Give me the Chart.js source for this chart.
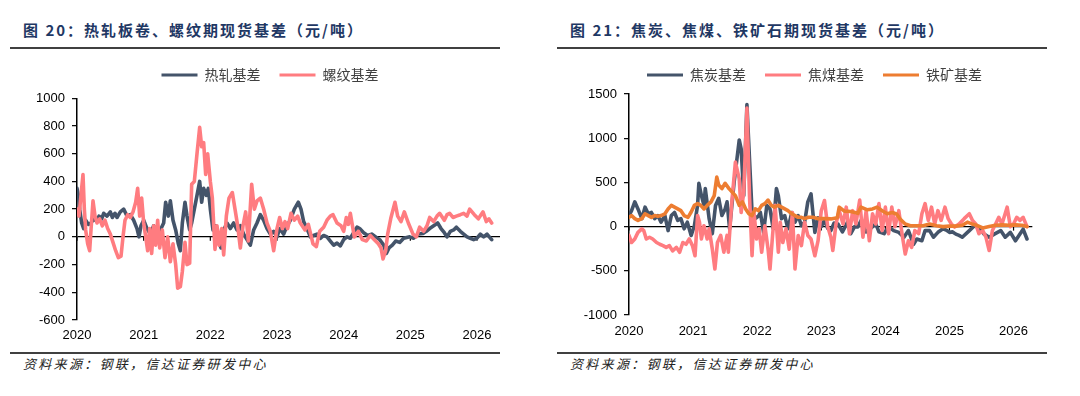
<!DOCTYPE html>
<html><head><meta charset="utf-8">
<script src="https://cdn.jsdelivr.net/npm/chart.js@4.4.1/dist/chart.umd.min.js"></script>
<style>
html,body{margin:0;padding:0;background:#fff;}
body{width:1080px;height:396px;position:relative;overflow:hidden;}
.title{position:absolute;top:20px;font:bold 15px "Noto Sans CJK SC",sans-serif;color:#1f3864;letter-spacing:2px;white-space:nowrap;line-height:20px;}
.rule{position:absolute;height:2px;background:#404040;}
.foot{position:absolute;top:355px;font:italic 13px "Noto Sans CJK SC",sans-serif;color:#222;letter-spacing:2.3px;white-space:nowrap;line-height:18px;}
canvas{position:absolute;}
</style></head>
<body>
<div class="title" style="left:23px">图 20：热轧板卷、螺纹期现货基差（元/吨）</div>
<div class="rule" style="left:10px;top:47px;width:490px"></div>
<canvas id="c1" width="475" height="300" style="left:25px;top:49px"></canvas>
<div class="rule" style="left:10px;top:352px;width:490px"></div>
<div class="foot" style="left:23px">资料来源：钢联，信达证券研发中心</div>

<div class="title" style="left:570px">图 21：焦炭、焦煤、铁矿石期现货基差（元/吨）</div>
<div class="rule" style="left:557px;top:47px;width:490px"></div>
<canvas id="c2" width="457" height="300" style="left:580px;top:49px"></canvas>
<div class="rule" style="left:557px;top:352px;width:490px"></div>
<div class="foot" style="left:570px">资料来源：钢联，信达证券研发中心</div>

<script>
// ---------- Chart 20: 热轧基差 / 螺纹基差 ----------
const hrcDates = [2020.00,2020.02,2020.04,2020.07,2020.10,2020.13,2020.17,2020.21,2020.25,2020.30,2020.33,2020.37,2020.40,2020.45,2020.50,2020.53,2020.57,2020.60,2020.65,2020.70,2020.75,2020.80,2020.85,2020.90,2020.93,2020.96,2021.00,2021.05,2021.10,2021.15,2021.20,2021.25,2021.30,2021.33,2021.37,2021.40,2021.44,2021.48,2021.52,2021.55,2021.58,2021.62,2021.65,2021.69,2021.72,2021.76,2021.80,2021.84,2021.87,2021.90,2021.94,2021.97,2022.00,2022.04,2022.08,2022.12,2022.16,2022.20,2022.25,2022.30,2022.35,2022.40,2022.45,2022.50,2022.55,2022.60,2022.65,2022.70,2022.75,2022.80,2022.85,2022.90,2022.95,2023.00,2023.04,2023.10,2023.15,2023.20,2023.26,2023.32,2023.36,2023.40,2023.45,2023.50,2023.55,2023.60,2023.65,2023.70,2023.75,2023.80,2023.85,2023.90,2023.95,2024.00,2024.05,2024.10,2024.15,2024.20,2024.24,2024.30,2024.36,2024.42,2024.48,2024.54,2024.60,2024.64,2024.68,2024.73,2024.78,2024.84,2024.90,2024.99,2025.05,2025.12,2025.19,2025.24,2025.29,2025.35,2025.41,2025.46,2025.51,2025.55,2025.60,2025.65,2025.69,2025.75,2025.80,2025.85,2025.90,2025.95,2026.00,2026.05,2026.10,2026.15,2026.22];
const hrcBasis = [350,300,200,100,60,120,90,100,130,110,150,130,170,150,180,140,170,140,180,200,150,160,120,60,0,80,120,60,20,80,-20,50,100,250,150,260,120,50,-50,-100,100,250,150,50,100,200,300,400,250,350,300,350,200,50,80,-30,-80,50,100,60,100,50,80,20,-20,-60,50,100,160,120,60,20,40,0,60,20,80,120,200,250,200,110,60,0,10,20,-10,10,0,-30,-60,-45,-65,-20,0,-10,30,70,60,30,10,20,0,-20,-60,-120,-80,-60,-30,-40,-10,0,-10,20,25,40,60,80,100,60,30,0,40,50,70,40,20,0,-10,-20,-10,20,0,20,-20];

const rebarDates = [2020.00,2020.03,2020.06,2020.09,2020.11,2020.13,2020.16,2020.19,2020.21,2020.24,2020.27,2020.30,2020.34,2020.38,2020.42,2020.46,2020.50,2020.54,2020.58,2020.62,2020.66,2020.69,2020.72,2020.76,2020.80,2020.84,2020.88,2020.91,2020.94,2020.97,2021.00,2021.03,2021.06,2021.09,2021.12,2021.15,2021.18,2021.21,2021.24,2021.28,2021.32,2021.36,2021.40,2021.44,2021.48,2021.51,2021.55,2021.58,2021.62,2021.65,2021.69,2021.72,2021.76,2021.80,2021.84,2021.87,2021.90,2021.93,2021.96,2022.00,2022.03,2022.07,2022.10,2022.13,2022.17,2022.20,2022.24,2022.28,2022.33,2022.37,2022.41,2022.45,2022.49,2022.53,2022.57,2022.62,2022.66,2022.70,2022.75,2022.80,2022.85,2022.90,2022.95,2023.00,2023.04,2023.08,2023.12,2023.16,2023.21,2023.26,2023.31,2023.35,2023.42,2023.47,2023.54,2023.59,2023.64,2023.70,2023.75,2023.80,2023.84,2023.90,2023.96,2024.00,2024.04,2024.07,2024.10,2024.16,2024.22,2024.28,2024.34,2024.40,2024.46,2024.52,2024.56,2024.59,2024.63,2024.66,2024.71,2024.77,2024.81,2024.86,2024.91,2024.97,2025.04,2025.09,2025.14,2025.20,2025.25,2025.29,2025.35,2025.40,2025.44,2025.51,2025.55,2025.59,2025.64,2025.69,2025.75,2025.80,2025.85,2025.89,2025.96,2026.02,2026.06,2026.09,2026.14,2026.18,2026.22];
const rebarBasis = [200,150,300,450,200,50,-50,-100,50,260,150,100,130,80,120,60,20,-40,-100,-150,-140,0,120,160,140,180,250,350,150,280,100,0,-100,60,-120,80,-60,120,-80,50,-150,0,-180,-50,-200,-370,-360,-250,-40,-200,-190,380,400,600,790,650,680,450,600,400,280,-90,80,-60,60,-130,150,280,320,200,80,-80,80,180,-30,380,200,260,280,200,100,40,-100,60,140,60,110,60,170,120,150,100,50,90,-50,-70,40,70,120,150,160,100,80,40,140,90,170,0,40,-20,-30,10,-20,-50,-80,-160,-100,20,140,250,150,110,180,100,20,0,70,40,80,140,110,150,170,120,160,170,140,150,160,170,150,200,160,130,160,180,110,130,100];

// ---------- Chart 21: 焦炭基差 / 焦煤基差 / 铁矿基差 ----------
const cokeDates = [2020.00,2020.04,2020.09,2020.14,2020.20,2020.25,2020.30,2020.35,2020.40,2020.45,2020.50,2020.56,2020.61,2020.66,2020.71,2020.76,2020.81,2020.86,2020.91,2020.97,2021.02,2021.07,2021.09,2021.13,2021.17,2021.19,2021.25,2021.30,2021.35,2021.40,2021.45,2021.50,2021.53,2021.57,2021.64,2021.72,2021.75,2021.79,2021.84,2021.87,2021.92,2021.97,2022.02,2022.05,2022.10,2022.15,2022.20,2022.25,2022.30,2022.33,2022.38,2022.43,2022.48,2022.54,2022.59,2022.64,2022.69,2022.74,2022.79,2022.84,2022.90,2022.95,2023.00,2023.05,2023.10,2023.15,2023.20,2023.26,2023.33,2023.41,2023.46,2023.52,2023.57,2023.62,2023.70,2023.77,2023.85,2023.90,2023.98,2024.05,2024.13,2024.21,2024.29,2024.36,2024.44,2024.49,2024.57,2024.62,2024.69,2024.75,2024.82,2024.90,2024.95,2025.00,2025.05,2025.10,2025.15,2025.20,2025.31,2025.39,2025.46,2025.54,2025.62,2025.70,2025.80,2025.87,2025.95,2026.03,2026.10,2026.15,2026.21];
const cokeBasis = [125,180,280,200,90,220,145,160,90,125,50,125,-45,125,160,70,90,-25,50,-100,10,240,490,350,240,430,90,-80,240,320,125,200,280,-25,500,980,880,350,1380,920,160,90,120,160,-65,240,200,-25,430,350,90,125,-25,160,50,125,10,50,280,370,-65,100,0,70,-20,-45,40,30,-60,50,-80,0,-5,70,-60,-20,30,-60,-80,0,-45,-65,-120,-45,-200,-140,-160,-45,-45,-120,-65,-25,-40,-65,-60,-85,-100,-120,-45,10,-10,-85,-120,-85,-45,-120,-65,-160,-85,-30,-140];

const coalDates = [2020.00,2020.04,2020.09,2020.14,2020.20,2020.23,2020.27,2020.32,2020.37,2020.43,2020.48,2020.53,2020.58,2020.63,2020.68,2020.74,2020.79,2020.84,2020.89,2020.94,2020.99,2021.03,2021.07,2021.10,2021.13,2021.17,2021.22,2021.25,2021.30,2021.34,2021.38,2021.43,2021.48,2021.53,2021.55,2021.60,2021.66,2021.72,2021.75,2021.79,2021.84,2021.88,2021.92,2021.95,2021.99,2022.03,2022.07,2022.12,2022.17,2022.20,2022.24,2022.28,2022.33,2022.36,2022.40,2022.45,2022.50,2022.55,2022.59,2022.64,2022.69,2022.74,2022.79,2022.84,2022.90,2022.95,2023.00,2023.05,2023.10,2023.15,2023.18,2023.23,2023.28,2023.34,2023.39,2023.44,2023.49,2023.54,2023.60,2023.65,2023.70,2023.75,2023.80,2023.85,2023.90,2023.95,2024.00,2024.05,2024.10,2024.15,2024.21,2024.26,2024.31,2024.36,2024.41,2024.46,2024.52,2024.57,2024.62,2024.67,2024.72,2024.77,2024.82,2024.87,2024.93,2024.98,2025.03,2025.08,2025.15,2025.23,2025.31,2025.36,2025.41,2025.46,2025.52,2025.57,2025.62,2025.67,2025.72,2025.77,2025.82,2025.90,2025.95,2026.00,2026.05,2026.10,2026.15,2026.21];
const coalBasis = [-100,-180,-140,-65,-25,-45,-140,-120,-140,-180,-200,-215,-235,-215,-275,-235,-290,-180,-200,-140,-215,-330,125,50,-140,10,-140,-25,-255,-480,-180,-100,-290,-100,-290,240,730,540,160,390,1340,350,-330,160,-140,-25,-290,10,-255,-480,-100,240,-290,50,-180,-25,-255,160,-480,-100,-215,50,-100,-140,-330,-160,180,295,0,-120,-270,30,180,30,220,-80,180,30,300,-120,180,-160,145,30,260,-45,220,-80,220,0,180,-80,-310,-160,-235,-45,-80,145,260,70,220,30,180,70,220,90,30,-5,30,90,145,70,30,-80,-45,-120,-270,-45,30,105,30,220,0,30,105,70,105,0];

const oreDates = [2020.00,2020.04,2020.09,2020.14,2020.20,2020.25,2020.30,2020.35,2020.40,2020.45,2020.50,2020.56,2020.61,2020.66,2020.71,2020.76,2020.81,2020.86,2020.92,2020.97,2021.02,2021.07,2021.12,2021.17,2021.22,2021.28,2021.33,2021.37,2021.40,2021.45,2021.50,2021.56,2021.61,2021.66,2021.72,2021.77,2021.82,2021.87,2021.92,2021.97,2022.02,2022.07,2022.12,2022.17,2022.22,2022.27,2022.33,2022.38,2022.43,2022.48,2022.54,2022.59,2022.64,2022.69,2022.74,2022.80,2022.87,2022.95,2023.05,2023.15,2023.25,2023.28,2023.36,2023.46,2023.57,2023.62,2023.72,2023.80,2023.87,2023.95,2024.03,2024.11,2024.18,2024.23,2024.31,2024.39,2024.49,2024.59,2024.69,2024.80,2024.90,2025.00,2025.10,2025.20,2025.28,2025.35,2025.42,2025.52,2025.62,2025.72,2025.82,2025.93,2026.03,2026.13,2026.21];
const oreBasis = [105,125,90,70,90,145,125,105,125,118,125,145,200,240,220,200,180,125,105,165,240,260,240,200,240,280,350,560,470,430,490,430,390,350,240,280,200,145,125,200,180,240,260,300,240,220,240,220,200,180,145,125,105,105,90,105,105,90,90,87,100,220,175,170,150,220,190,200,220,180,145,160,140,87,30,10,10,10,30,10,0,5,5,15,50,30,15,-15,0,15,20,15,20,15,0];

const C = {navy:'#44546A', pink:'#FF7C80', orange:'#ED7D31'};
const pts = (t, v) => t.map((x, i) => ({x, y: v[i]}));

const legendShift = {
  id: 'legendShift',
  afterLayout(chart, args, opts) {
    if (chart.legend) { chart.legend.left += opts.dx; chart.legend.right += opts.dx; }
  }
};
const yearTicks = {
  id: 'yearTicks',
  beforeDatasetsDraw(chart) {
    const {ctx, scales: {x, y}} = chart;
    const y0 = y.getPixelForValue(0);
    ctx.save(); ctx.strokeStyle = '#000'; ctx.lineWidth = 1.2;
    x.ticks.forEach(t => {
      const px = x.getPixelForValue(t.value);
      ctx.beginPath(); ctx.moveTo(px, y0); ctx.lineTo(px, y0 + 4); ctx.stroke();
    });
    ctx.restore();
  }
};

function series(label, t, v, color, order) {
  return {label, data: pts(t, v), borderColor: color, backgroundColor: color, borderWidth: 3.6,
    pointRadius: 0, tension: 0, borderJoinStyle: 'round', borderCapStyle: 'round', order};
}

function makeChart(id, datasets, o) {
  return new Chart(document.getElementById(id), {
    type: 'line',
    data: {datasets},
    plugins: [legendShift, yearTicks],
    options: {
      responsive: false, animation: false, devicePixelRatio: 1,
      layout: {padding: 0},
      plugins: {
        legendShift: {dx: o.dx},
        tooltip: {enabled: false},
        subtitle: {display: true, text: '', weight: 500, font: {size: 1, lineHeight: 1}, padding: {top: o.gap, bottom: 0}},
        legend: {
          position: 'top',
          labels: {
            boxWidth: 36, boxHeight: 3, padding: 19, color: '#404040',
            font: {family: '"Noto Sans CJK SC"', size: 14},
            sort: (a, b) => a.datasetIndex - b.datasetIndex,
            generateLabels: (ch) => Chart.defaults.plugins.legend.labels.generateLabels(ch).map(l => ({...l, lineWidth: 0}))
          }
        }
      },
      scales: {
        x: {
          type: 'linear', min: 2020, max: o.xmax,
          grid: {display: false, drawTicks: false}, border: {display: false},
          afterFit: s => { s.height = o.xh; },
          ticks: {stepSize: 1, includeBounds: false, autoSkip: false, maxRotation: 0, padding: o.xpad, color: '#000',
            font: {family: '"Liberation Sans"', size: 13},
            callback: v => Number.isInteger(v) ? String(v) : ''}
        },
        y: {
          min: o.ymin, max: o.ymax,
          afterFit: s => { s.width = o.yw; },
          border: {display: true, color: '#000', width: 1.5},
          grid: {color: c => c.tick && c.tick.value === 0 ? '#000' : 'rgba(0,0,0,0)', lineWidth: 1.3, tickLength: 5, tickColor: '#000', tickWidth: 1.2},
          ticks: {stepSize: o.ystep, padding: 7, color: '#000', font: {family: '"Liberation Sans"', size: 13},
            callback: v => String(v)}
        }
      }
    }
  });
}

makeChart('c1', [
  series('热轧基差', hrcDates, hrcBasis, C.navy, 2),
  series('螺纹基差', rebarDates, rebarBasis, C.pink, 1)
], {dx: 7.5, gap: 5.3, xmax: 2026.345, xh: 29, xpad: 8, ymin: -600, ymax: 1000, ystep: 200, yw: 52});

makeChart('c2', [
  series('焦炭基差', cokeDates, cokeBasis, C.navy, 3),
  series('焦煤基差', coalDates, coalBasis, C.pink, 2),
  series('铁矿基差', oreDates, oreBasis, C.orange, 1)
], {dx: 6, gap: 1, xmax: 2026.293, xh: 34, xpad: 9, ymin: -1000, ymax: 1500, ystep: 500, yw: 49});
</script>
</body></html>
